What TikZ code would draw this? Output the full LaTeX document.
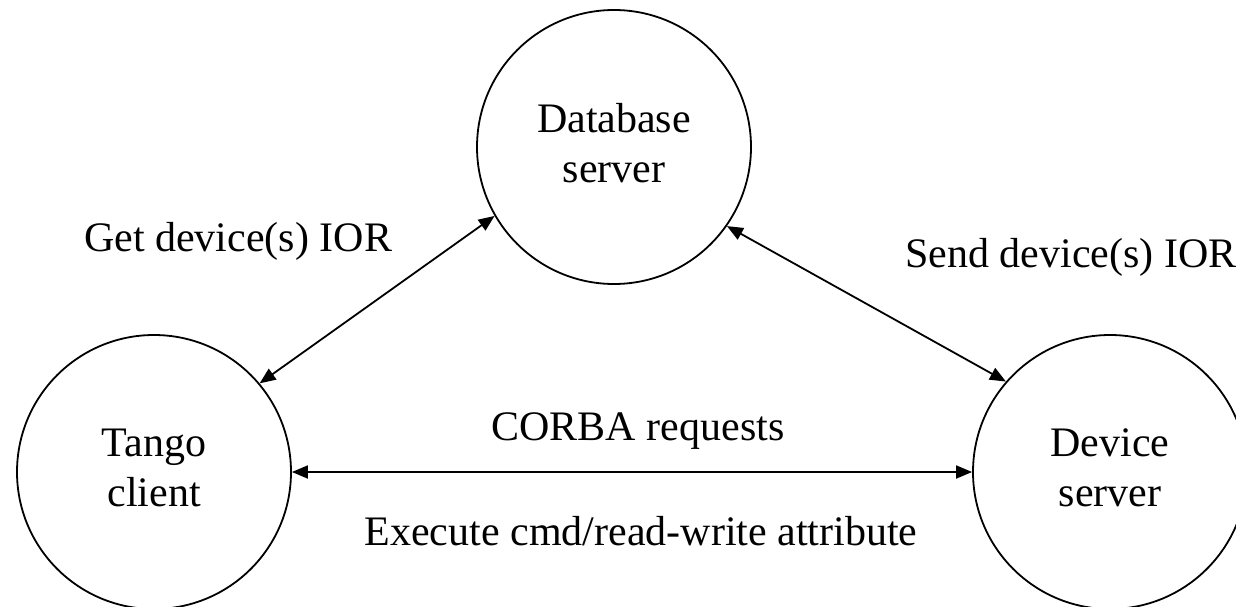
\documentclass[tikz,border=0pt]{standalone}
\usepackage{fontspec}
\setmainfont{Liberation Serif}
\usetikzlibrary{arrows.meta}
\tikzset{
  circ/.style={draw, circle, line width=1.8pt, minimum size=274pt, inner sep=0pt,
    align=center, font=\fontsize{42}{50}\selectfont, execute at end node={\vphantom{g}}},
  lbl/.style={font=\fontsize{42}{50}\selectfont, inner sep=0pt},
  conn/.style={line width=1.8pt, <->}
}
\begin{document}
\begin{tikzpicture}[x=1pt, y=1pt, >={Triangle[length=16pt,width=13pt]}]
  \useasboundingbox (0,0) rectangle (1236,-607);
  \node[circ] (db) at (614,-147) {Database\\server};
  \node[circ] (tc) at (154,-472) {Tango\\client};
  \node[circ] (ds) at (1110,-472) {Device\\server};
  \draw[conn] (tc.40) -- (db.210);
  \draw[conn] (db.325) -- (ds.139);
  \draw[conn] (tc) -- (ds);
  \node[lbl, anchor=base west] (get) at (84,-251) {Get device(s) IOR};
  \node[lbl, anchor=base west] (send) at (905,-267) {Send device(s) IOR};
  \node[lbl, anchor=base] (corba) at (638,-440) {CORBA requests};
  \node[lbl, anchor=base] (exec) at (641,-545) {Execute cmd/read-write attribute};
\end{tikzpicture}
\end{document}
